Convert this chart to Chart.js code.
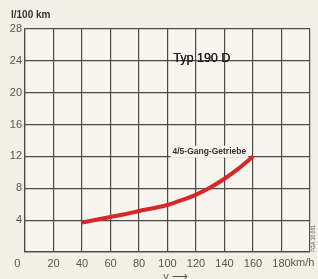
<!DOCTYPE html>
<html>
<head>
<meta charset="utf-8">
<script src="https://cdn.jsdelivr.net/npm/chart.js@4"></script>
<style>
  html, body { margin: 0; padding: 0; background: #f2efe6; }
  #wrap { width: 318px; height: 279px; }
</style>
</head>
<body>
<div id="wrap"><canvas id="c" width="318" height="279"></canvas></div>
<script>
// speed (km/h) vs consumption (l/100 km), Typ 190 D
const speeds = [40, 50, 60, 70, 80, 90, 100, 110, 120, 130, 140, 150, 160];
const consumption = [3.7, 4.05, 4.4, 4.75, 5.15, 5.5, 5.9, 6.5, 7.2, 8.1, 9.2, 10.5, 12.0];
const xTicks = [0, 20, 40, 60, 80, 100, 120, 140, 160, 180, 200];
const yTicks = [0, 4, 8, 12, 16, 20, 24, 28];

const yTitle = "l/100 km";
const xTitle = "v \u27F6";
const typeLabel = "Typ 190 D";
const curveLabel = "4/5-Gang-Getriebe";
const codeLabel = "FGA 10 091";

const FONT = "'Liberation Sans', Arial, sans-serif";

// extra texts drawn after the chart
const labels = {
  id: "labels",
  afterDraw(chart) {
    const { ctx } = chart;
    const x = chart.scales.x, y = chart.scales.y;
    ctx.save();
    ctx.fillStyle = "#333";
    ctx.textBaseline = "middle";

    ctx.font = "bold 10px " + FONT;
    ctx.textAlign = "left";
    ctx.fillText(yTitle, 11, 15);

    ctx.font = "12.5px " + FONT;
    ctx.fillStyle = "#1f1f1f";
    ctx.fillText(typeLabel, x.getPixelForValue(104), y.getPixelForValue(24.3));
    ctx.fillText(typeLabel, x.getPixelForValue(104) + 0.4, y.getPixelForValue(24.3));

    // curve label with light box
    ctx.font = "bold 8.5px " + FONT;
    const lx = x.getPixelForValue(103.5), ly = y.getPixelForValue(12.6);
    const w = ctx.measureText(curveLabel).width;
    ctx.fillStyle = "#f6f4ee";
    ctx.fillRect(lx - 2, ly - 6, w + 4, 12);
    ctx.fillStyle = "#333";
    ctx.fillText(curveLabel, lx, ly);

    // km/h after the 180 label
    ctx.font = "11px " + FONT;
    ctx.fillStyle = "#555";
    ctx.fillText("km/h", x.getPixelForValue(180) + 9, 263);

    ctx.font = "11px " + FONT;
    ctx.fillText(xTitle, x.getPixelForValue(97), 277);

    // small vertical code
    ctx.translate(314, 252);
    ctx.rotate(-Math.PI / 2);
    ctx.font = "5px " + FONT;
    ctx.fillText(codeLabel, 0, 0);
    ctx.restore();
  }
};

const plotBg = {
  id: "plotBg",
  beforeDraw(chart) {
    const { ctx, chartArea: a } = chart;
    ctx.save();
    ctx.fillStyle = "#f7f5ee";
    ctx.fillRect(a.left, a.top, a.right - a.left, a.bottom - a.top);
    ctx.restore();
  }
};

new Chart(document.getElementById("c"), {
  type: "line",
  data: {
    datasets: [{
      data: speeds.map((s, i) => ({ x: s, y: consumption[i] })),
      borderColor: "#d8262b",
      borderWidth: 4,
      pointRadius: 0,
      tension: 0.4,
      cubicInterpolationMode: "monotone",
      fill: false
    }]
  },
  options: {
    responsive: false,
    animation: false,
    layout: { padding: { top: 29, right: 8, left: 0, bottom: 0 } },
    plugins: { legend: { display: false }, tooltip: { enabled: false } },
    scales: {
      x: {
        type: "linear",
        min: 0, max: 200,
        afterBuildTicks: (s) => { s.ticks = xTicks.map(v => ({ value: v })); },
        afterFit: (s) => { s.height = 27; },
        grid: { color: "#4a4a4a", lineWidth: 1.2, drawTicks: false },
        border: { color: "#4a4a4a", width: 1.2 },
        ticks: {
          padding: 5,
          color: "#555",
          font: { family: FONT, size: 11 },
          maxRotation: 0,
          callback: (v) => v === 200 ? "" : (v === 0 ? "0     " : String(v))
        }
      },
      y: {
        min: 0, max: 28,
        ticks: {
          stepSize: 2,
          padding: 3,
          color: "#555",
          font: { family: FONT, size: 11 },
          callback: (v) => (v !== 0 && yTicks.includes(v)) ? String(v) : ""
        },
        afterFit: (s) => { s.width = 25; },
        grid: { color: "#4a4a4a", lineWidth: 1.2, drawTicks: false },
        border: { color: "#4a4a4a", width: 1.2 }
      }
    }
  },
  plugins: [plotBg, labels]
});
</script>
</body>
</html>
